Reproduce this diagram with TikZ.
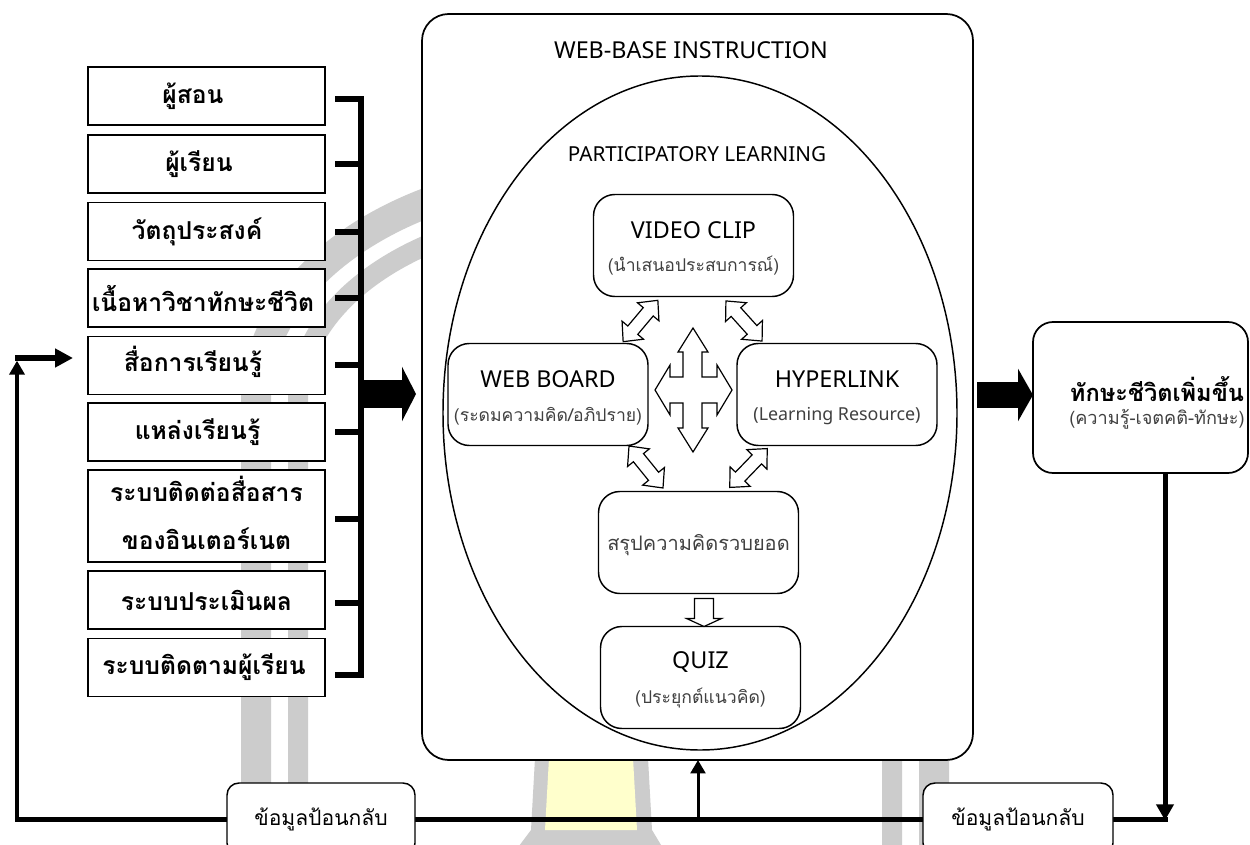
\documentclass[tikz,border=0pt]{standalone}
\usepackage{fontspec}
\setmainfont{Noto Sans}
\newfontfamily\thai[Script=Thai]{Loma}
\usetikzlibrary{arrows.meta,shapes.geometric}

\definecolor{torch}{RGB}{255,255,204}
\tikzset{
  every node/.style={inner sep=0pt, outer sep=0pt},
  lbox/.style={draw, line width=1.4pt, fill=white, minimum width=177.75pt, minimum height=43.5pt},
  lbl/.style={font=\thai\bfseries\fontsize{18.5}{22}\selectfont},
  mainbox/.style={draw, line width=1.3pt, fill=white, rounded corners=20pt,
                  minimum width=413.25pt, minimum height=559.5pt},
  ibox/.style={draw, line width=1.1pt, fill=white, rounded corners=16pt,
               minimum width=150pt, minimum height=76.5pt},
  ttl/.style={font=\fontsize{17.5}{20}\selectfont},
  subt/.style={text=black!75, font=\thai\fontsize{13.2}{16}\selectfont},
  subl/.style={text=black!75, font=\fontsize{13.4}{16}\selectfont},
  hollow/.style={draw, line width=0.9pt, fill=white, line join=miter},
  bar/.style={line width=4.5pt},
  fbbox/.style={draw, line width=1.1pt, fill=white, rounded corners=9pt,
                minimum width=141pt, minimum height=54pt,
                font=\thai\fontsize{15.8}{18}\selectfont},
  wm/.style={draw=black!20},
}
% double-headed hollow arrow: centre x, centre y, angle, length
\newcommand\twoway[4]{%
  \draw[hollow, shift={(#1,#2)}, rotate=#3]
    (-#4/2,0) -- (-#4/2+15,-14) -- (-#4/2+15,-6.5) -- (#4/2-15,-6.5) -- (#4/2-15,-14)
    -- (#4/2,0) -- (#4/2-15,14) -- (#4/2-15,6.5) -- (-#4/2+15,6.5) -- (-#4/2+15,14) -- cycle;}

\begin{document}
\begin{tikzpicture}[x=0.75pt, y=-0.75pt]
\useasboundingbox (0,0) rectangle (1250,845);
\clip (0,0) rectangle (1250,845);
\fill[white] (0,0) rectangle (1250,845);

% faint emblem in the background
\draw[wm, line width=22.5pt] (256,870) -- (256,400)
  arc[start angle=180, end angle=0, x radius=254.25pt, y radius=170.25pt] -- (934,870);
\draw[wm, line width=15pt] (298,870) -- (298,400)
  arc[start angle=180, end angle=0, x radius=222.75pt, y radius=141pt] -- (892,870);
\fill[black!20] (536,740) -- (647,740) -- (652,830) -- (664,850) -- (516,850) -- (531,830) -- cycle;
\fill[torch] (550,740) -- (632,740) -- (637,830) -- (545,830) -- cycle;

% input components
\node[lbox] (b1) at (206.5,96) {};
\node[lbox] (b2) at (206.5,164) {};
\node[lbox] (b3) at (206.5,231.5) {};
\node[lbox] (b4) at (206.5,298) {};
\node[lbox] (b5) at (206.5,365.5) {};
\node[lbox] (b6) at (206.5,432) {};
\node[lbox, minimum height=69pt] (b7) at (206.5,516) {};
\node[lbox] (b8) at (206.5,600) {};
\node[lbox] (b9) at (206.5,667.5) {};

\node[lbl] (t1) at (193,96) {ผู้สอน};
\node[lbl] (t2) at (199,164) {ผู้เรียน};
\node[lbl] (t3) at (197,231.5) {วัตถุประสงค์};
\node[lbl] (t4) at (203,298) {เนื้อหาวิชาทักษะชีวิต};
\node[lbl] (t5) at (193,362) {สื่อการเรียนรู้};
\node[lbl] (t6) at (197.5,432) {แหล่งเรียนรู้};
\node[lbl] (t7a) at (206.5,489) {ระบบติดต่อสื่อสาร};
\node[lbl] (t7b) at (206.5,539) {ของอินเตอร์เนต};
\node[lbl] (t8) at (206.5,600) {ระบบประเมินผล};
\node[lbl] (t9) at (204,667.5) {ระบบติดตามผู้เรียน};

% bracket collecting the components
\coordinate (brTop) at (361,99);
\coordinate (brBot) at (361,675);
\coordinate (brMid) at (361,394);
\draw[bar, line cap=rect] (brTop) -- (brBot);
\foreach \b/\d in {b1/3, b2/0, b3/0.5, b4/0, b5/-0.5, b6/0, b7/3, b8/3, b9/7.5}
  \draw[bar] ([xshift=7.5pt]\b.east) ++(0,\d) -- ++(26,0);

% web-based instruction frame
\node[mainbox] (main) at (697.5,387) {};
\node[font=\fontsize{17.5}{20}\selectfont] (wbi) at (691,50) {WEB-BASE INSTRUCTION};
\node[draw, ellipse, line width=1.1pt, minimum width=385.5pt, minimum height=505.5pt] (part) at (700,413) {};
\node[font=\fontsize{15.5}{18}\selectfont] (pl) at (697,154) {PARTICIPATORY LEARNING};

\node[ibox] (video) at (693.5,245.5) {};
\node[ttl] (videot) at (693.5,230) {VIDEO CLIP};
\node[subt] (videos) at (693.5,266) {(นำเสนอประสบการณ์)};

\node[ibox] (web) at (548,394.5) {};
\node[ttl] (webt) at (548,379) {WEB BOARD};
\node[subt] (webs) at (548,416) {(ระดมความคิด/อภิปราย)};

\node[ibox] (hyper) at (837,394.5) {};
\node[ttl] (hypert) at (837,379) {HYPERLINK};
\node[subl] (hypers) at (837,416) {(Learning Resource)};

\node[ibox] (sum) at (698.5,542.5) {};
\node[subt, font=\thai\fontsize{15}{18}\selectfont] (sumt) at (698.5,545) {สรุปความคิดรวบยอด};

\node[ibox] (quiz) at (700.5,677.5) {};
\node[ttl] (quizt) at (700.5,662) {QUIZ};
\node[subt] (quizs) at (700.5,698) {(ประยุกต์แนวคิด)};

% exchanges between the activities
\twoway{640.5}{321}{50}{54}
\twoway{744}{321}{-48}{54}
\twoway{646}{467}{-51}{54}
\twoway{748.5}{468}{46}{54}
\draw[hollow] (693,328) -- (708,352) -- (702,352) -- (702,377) -- (717,377) -- (717,365)
  -- (732,390) -- (717,415) -- (717,403) -- (702,403) -- (702,428) -- (708,428)
  -- (693,452) -- (678,428) -- (683,428) -- (683,403) -- (670,403) -- (670,415)
  -- (655,390) -- (670,365) -- (670,377) -- (683,377) -- (683,352) -- (678,352) -- cycle;
\draw[hollow] ([xshift=-5.6pt,yshift=-3.75pt]sum.south) ++(3.5,0) -- ++(0,20) -- ++(-8,0)
  -- ++(17.5,8) -- ++(17.5,-8) -- ++(-8,0) -- ++(0,-20) -- cycle;

% outcome
\node[draw, line width=1.3pt, fill=white, rounded corners=15pt,
      minimum width=161.25pt, minimum height=113.25pt] (res) at (1140.5,397.5) {};
\node[font=\thai\bfseries\fontsize{17.7}{20}\selectfont] (rest) at (1157,389) {ทักษะชีวิตเพิ่มขึ้น};
\node[subt, font=\thai\fontsize{13.6}{16}\selectfont] (ress) at (1157,419) {(ความรู้-เจตคติ-ทักษะ)};

% main flow
\draw[line width=21pt, -{Triangle[length=10.5pt, width=40.5pt]}, shorten >=4.5pt]
  (brMid) -- (brMid -| main.west);
\draw[line width=19.5pt, -{Triangle[length=11.25pt, width=39pt]}, shorten <=3pt]
  (main.east |- 0,395) -- (res.west |- 0,395);

% feedback loop
\coordinate (botL) at (17,819);
\coordinate (botR) at (1165,819);
\coordinate (botJ) at (698,819);
\coordinate (upL) at (17,358);
\draw[line width=3.75pt, line cap=rect] (botL) -- (botR);
\draw[line width=3.75pt, -{Triangle[length=12pt, width=12.75pt]}] (res.south -| botR) -- ([yshift=-1pt]botR);
\draw[line width=3pt, -{Triangle[length=10.5pt, width=11.25pt]}] (botL) -- ([yshift=-2pt]upL);
\draw[line width=4.5pt, -{Triangle[length=13.5pt, width=13.5pt]}] ([xshift=-1.2pt]upL) -- ([xshift=-11.25pt]b5.west |- upL);
\draw[line width=2.25pt, -{Triangle[length=10pt, width=11pt]}] (botJ) -- (botJ |- main.south);

\node[fbbox] (fbl) at (321,819) {ข้อมูลป้อนกลับ};
\node[fbbox, minimum width=142.5pt] (fbr) at (1018,819) {ข้อมูลป้อนกลับ};
\end{tikzpicture}
\end{document}
